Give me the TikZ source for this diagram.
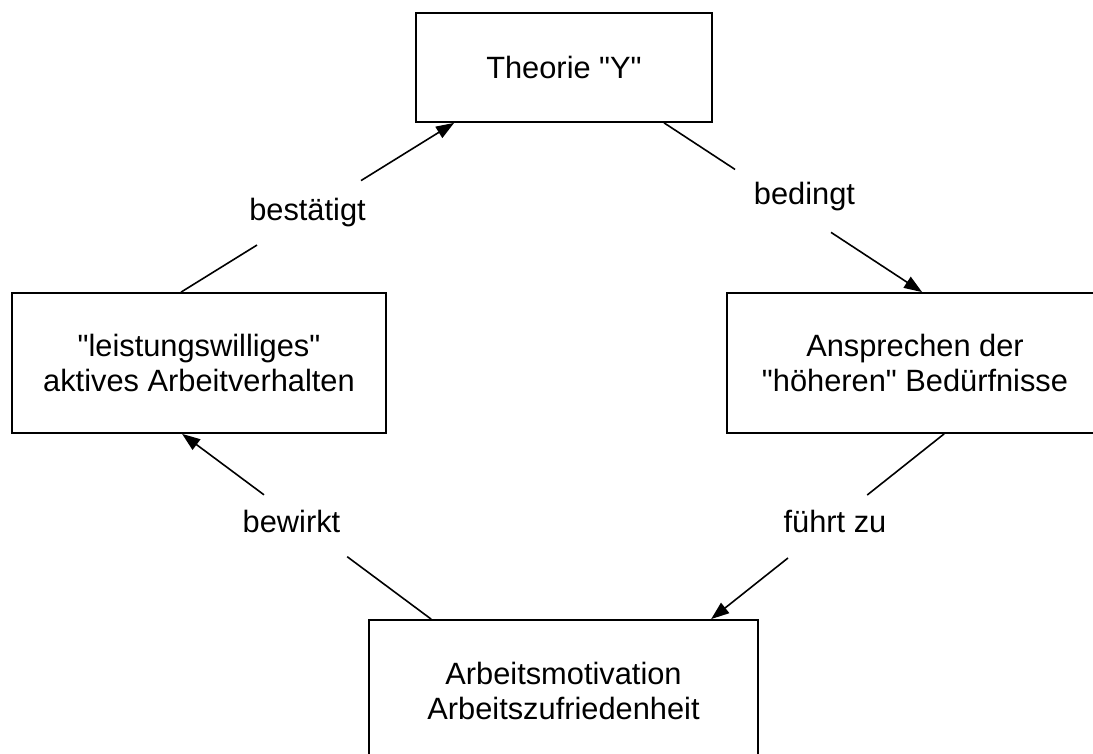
\documentclass[tikz,border=0pt]{standalone}
\usepackage{fontspec}
\setmainfont{Liberation Sans}
\usetikzlibrary{arrows.meta,calc}
\newcommand{\dq}{\textquotedbl}
\begin{document}
\begin{tikzpicture}[x=1pt,y=-1pt,
  box/.style={draw,line width=1.8pt,inner sep=0pt,align=center,
    font=\fontsize{30.8}{35.4}\selectfont},
  lbl/.style={inner sep=0pt,font=\fontsize{30.8}{35.4}\selectfont},
  conn/.style={line width=1.6pt},
  arr/.style={-{Triangle[length=18pt,width=13pt]}}]
\clip (0,0) rectangle (1093,754);
\fill[white] (0,0) rectangle (1093,754);
% boxes
\node[box,minimum width=296pt,minimum height=109pt] (tbox) at (564,67.5) {Theorie \dq Y\dq};
\node[box,minimum width=374pt,minimum height=140pt] (lbox) at (199,363) {\dq leistungswilliges\dq\\aktives Arbeitverhalten};
\node[box,minimum width=376pt,minimum height=140pt] (rbox) at (915,363) {Ansprechen der\\\dq höheren\dq{} Bedürfnisse};
\node[box,minimum width=389pt,minimum height=142pt] (bbox) at (563.5,691) {Arbeitsmotivation\\Arbeitszufriedenheit};
% connector end points on box borders
\coordinate (s1) at ($(lbox.north west)+(170,0)$);
\coordinate (e1) at ($(tbox.south west)+(39,0)$);
\coordinate (s2) at ($(tbox.south west)+(249,0)$);
\coordinate (e2) at ($(rbox.north west)+(196,0)$);
\coordinate (s3) at ($(rbox.south west)+(218,0)$);
\coordinate (e3) at ($(bbox.north west)+(343,0)$);
\coordinate (s4) at ($(bbox.north west)+(63,0)$);
\coordinate (e4) at ($(lbox.south west)+(171,0)$);
% connectors
\draw[conn] (s1) -- ($(s1)!0.278!(e1)$);
\draw[conn,arr] ($(s1)!0.659!(e1)$) -- (e1);
\draw[conn] (s2) -- ($(s2)!0.275!(e2)$);
\draw[conn,arr] ($(s2)!0.647!(e2)$) -- (e2);
\draw[conn] (s3) -- ($(s3)!0.330!(e3)$);
\draw[conn,arr] ($(s3)!0.670!(e3)$) -- (e3);
\draw[conn] (s4) -- ($(s4)!0.337!(e4)$);
\draw[conn,arr] ($(s4)!0.671!(e4)$) -- (e4);
% labels
\node[lbl] (l1) at (307.5,213) {bestätigt};
\node[lbl] (l2) at (804.5,197) {bedingt};
\node[lbl] (l3) at (835,521) {führt zu};
\node[lbl] (l4) at (291.5,521) {bewirkt};
\end{tikzpicture}
\end{document}
